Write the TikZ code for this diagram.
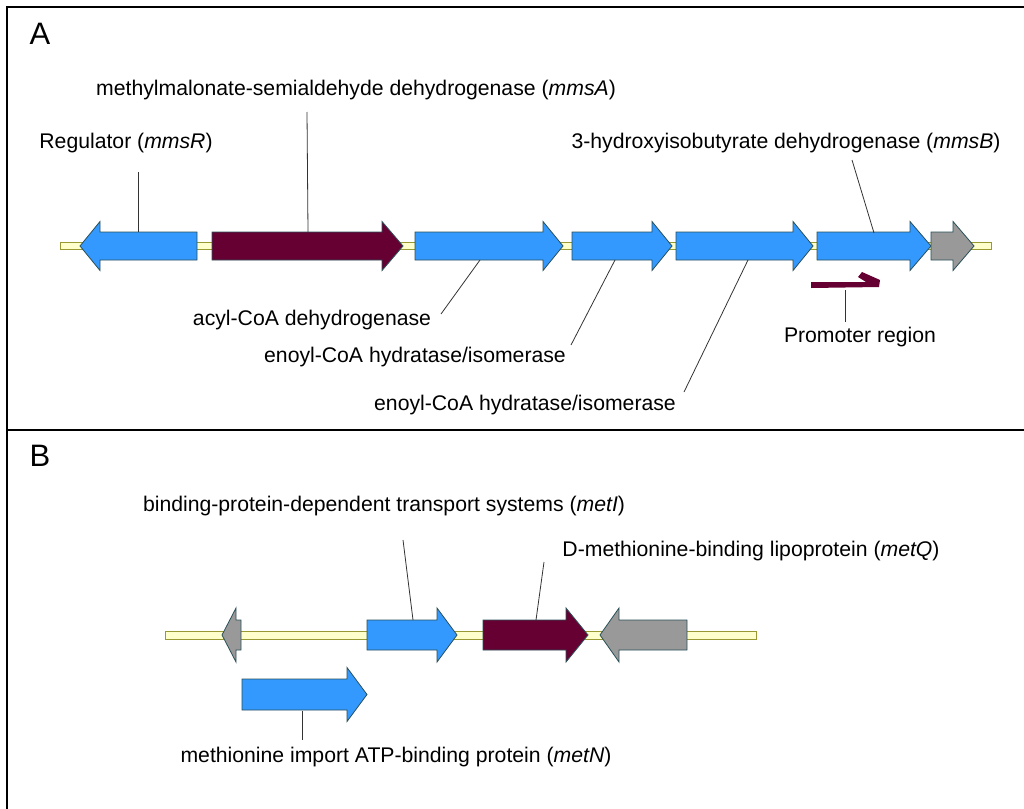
\documentclass[tikz,border=0pt]{standalone}
\usepackage{fontspec}
\setmainfont{Liberation Sans}
\definecolor{geneblue}{HTML}{3399FF}
\definecolor{genemaroon}{HTML}{660033}
\definecolor{genegray}{HTML}{999999}
\definecolor{geneedge}{HTML}{2A5058}
\definecolor{bbfill}{HTML}{FFFFCC}
\definecolor{bbedge}{HTML}{999933}
\definecolor{leadcol}{HTML}{333333}
% #1 name, #2 tail x, #3 head base x, #4 tip x, #5 centre y, #6 body half height, #7 head half height, #8 colour
\newcommand\genearrow[8]{%
  \path[genebox, fill=#8] (#2,{#5-#6}) -- (#3,{#5-#6}) -- (#3,{#5-#7}) -- (#4,#5)
     -- (#3,{#5+#7}) -- (#3,{#5+#6}) -- (#2,{#5+#6}) -- cycle;
  \coordinate (#1) at ({(#2+#4)/2},#5);}
\begin{document}
\begin{tikzpicture}[x=1pt,y=-1pt,
  genebox/.style={draw=geneedge, line width=0.8pt, line join=miter},
  backbone/.style={draw=bbedge, fill=bbfill, line width=0.9pt},
  leader/.style={draw=leadcol, line width=0.8pt},
  lab/.style={font=\fontsize{21.2}{25}\selectfont, inner sep=0pt},
  panel/.style={font=\fontsize{31}{36}\selectfont, inner sep=0pt},
  frame/.style={draw=black, line width=2.2pt}]
\useasboundingbox (0,0) rectangle (1024,808);
% frame
\draw[frame] (7,1000) -- (7,7) -- (1100,7);
\draw[frame] (7,430) -- (1100,430);
% ---------------- Panel A ----------------
\node[panel] (pA) at (40,34) {A};
\path[backbone] (60,242) rectangle (991,249);
\genearrow{mmsR}{197}{100}{80}{246}{14}{24.5}{geneblue}
\genearrow{mmsA}{212}{382}{403}{246}{14}{24.5}{genemaroon}
\genearrow{acyl}{415}{543}{563}{246}{14}{24.5}{geneblue}
\genearrow{enoA}{572}{652}{672}{246}{14}{24.5}{geneblue}
\genearrow{enoB}{676}{793}{813}{246}{14}{24.5}{geneblue}
\genearrow{mmsB}{817}{910}{931}{246}{14}{24.5}{geneblue}
\genearrow{orfA}{931}{953}{974}{246}{14}{24.5}{genegray}
% promoter bent arrow
\fill[genemaroon] (811,282) -- (866,282) -- (858,277) -- (862,272) -- (880,280)
   -- (879,287) -- (811,288) -- cycle;
\coordinate (prom) at (845,285);
% labels A
\node[lab] (tA) at (356,90) {methylmalonate-semialdehyde dehydrogenase (\textit{mmsA})};
\node[lab] (tR) at (126,143) {Regulator (\textit{mmsR})};
\node[lab] (tB) at (786,143) {3-hydroxyisobutyrate dehydrogenase (\textit{mmsB})};
\node[lab] (tAcyl) at (312,320) {acyl-CoA dehydrogenase};
\node[lab] (tEno1) at (415,357) {enoyl-CoA hydratase/isomerase};
\node[lab] (tEno2) at (525,405) {enoyl-CoA hydratase/isomerase};
\node[lab] (tProm) at (860,337) {Promoter region};
% leader end points
\coordinate (lR1) at (138,172);  \coordinate (lR2) at (138,232);
\coordinate (lA1) at (307,112);  \coordinate (lA2) at (308,232);
\coordinate (lB1) at (852,160);  \coordinate (lB2) at (874,233);
\coordinate (lC1) at (441,314);  \coordinate (lC2) at (480,260);
\coordinate (lE1) at (571,345);  \coordinate (lE2) at (615,260);
\coordinate (lF1) at (684,392);  \coordinate (lF2) at (748,260);
\coordinate (lP1) at (845,290);  \coordinate (lP2) at (845,322);
\draw[leader] (lR1) -- (lR2);
\draw[leader] (lA1) -- (lA2);
\draw[leader] (lB1) -- (lB2);
\draw[leader] (lC1) -- (lC2);
\draw[leader] (lE1) -- (lE2);
\draw[leader] (lF1) -- (lF2);
\draw[leader] (lP1) -- (lP2);
% ---------------- Panel B ----------------
\node[panel] (pB) at (40,456) {B};
\path[backbone] (165,631) rectangle (756,639);
\genearrow{orfB}{241}{236}{222}{635}{15}{27}{genegray}
\genearrow{metI}{367}{437}{457}{635}{15}{27}{geneblue}
\genearrow{metQ}{483}{566}{588}{635}{15}{27}{genemaroon}
\genearrow{orfC}{687}{619}{600}{635}{15}{27}{genegray}
\genearrow{metN}{242}{347}{367}{694.5}{15.5}{27}{geneblue}
\node[lab] (tI) at (384,506) {binding-protein-dependent transport systems (\textit{metI})};
\node[lab] (tQ) at (751,551) {D-methionine-binding lipoprotein (\textit{metQ})};
\node[lab] (tN) at (396,757) {methionine import ATP-binding protein (\textit{metN})};
\coordinate (lI1) at (403,540);  \coordinate (lI2) at (413,620);
\coordinate (lQ1) at (544,562);  \coordinate (lQ2) at (536,620);
\coordinate (lN1) at (302,711);  \coordinate (lN2) at (302,740);
\draw[leader] (lI1) -- (lI2);
\draw[leader] (lQ1) -- (lQ2);
\draw[leader] (lN1) -- (lN2);
\end{tikzpicture}
\end{document}
